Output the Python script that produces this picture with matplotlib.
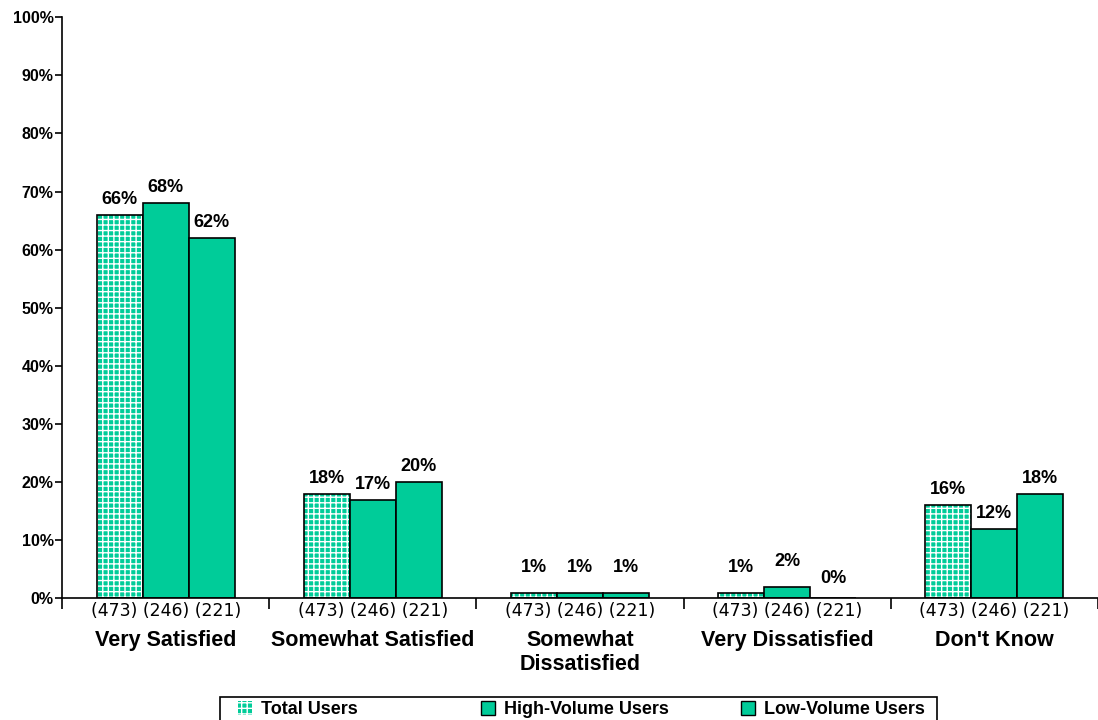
import numpy as np
import matplotlib
matplotlib.use('Agg')
import matplotlib.pyplot as plt
from matplotlib.patches import Patch, Rectangle

plt.rcParams['font.family'] = ['Liberation Sans', 'DejaVu Sans']
plt.rcParams['hatch.linewidth'] = 1.0

categories = ['Very Satisfied', 'Somewhat Satisfied', 'Somewhat\nDissatisfied',
              'Very Dissatisfied', "Don't Know"]
series_names = ['Total Users', 'High-Volume Users', 'Low-Volume Users']
total_users = [66, 18, 1, 1, 16]
high_volume = [68, 17, 1, 2, 12]
low_volume = [62, 20, 1, 0, 18]
base_sizes = ['(473)', '(246)', '(221)']

green = '#00CC99'

fig = plt.figure(figsize=(10.98, 7.2), dpi=100)
ax = fig.add_axes([0.0565, 0.169, 0.9435, 0.807])

x = np.arange(len(categories))
w = 0.222
offsets = [-w, 0, w]

# total users: green with white grid -> dotted look
ax.bar(x + offsets[0], total_users, w, color=green, edgecolor='white',
       hatch='+++', linewidth=0)
ax.bar(x + offsets[0], total_users, w, color='none', edgecolor='black', linewidth=1.2)
ax.bar(x + offsets[1], high_volume, w, color=green, edgecolor='black', linewidth=1.2)
ax.bar(x + offsets[2], low_volume, w, color=green, edgecolor='black', linewidth=1.2)

for vals, off in zip([total_users, high_volume, low_volume], offsets):
    for xi, v in zip(x, vals):
        dy = 5 if v >= 5 else (12 if v > 0 else 8)
        ax.annotate(f'{v}%', (xi + off, v), xytext=(0, dy),
                    textcoords='offset points', ha='center', va='bottom',
                    fontsize=13, fontweight='bold')

ax.set_ylim(0, 100)
ax.set_xlim(-0.5, 4.5)
ax.set_yticks(range(0, 101, 10))
ax.set_yticklabels([f'{v}%' for v in range(0, 101, 10)], fontsize=11.5, fontweight='bold')
ax.tick_params(axis='y', length=5, width=1.2, pad=1)
ax.set_xticks(np.arange(-0.5, 4.6, 1))
ax.set_xticklabels([])
ax.tick_params(axis='x', length=8, width=1.2)
for s in ['top', 'right']:
    ax.spines[s].set_visible(False)
ax.spines['left'].set_linewidth(1.2)
ax.spines['bottom'].set_linewidth(1.2)

for xi, cat in zip(x, categories):
    ax.text(xi, -0.7, ' '.join(base_sizes), ha='center', va='top',
            fontsize=12.4, family='DejaVu Sans')
    ax.text(xi, -5.5, cat, ha='center', va='top', fontsize=15.5, fontweight='bold',
            linespacing=1.2)

# legend: box drawn separately, one entry per column placed on an even grid
box = Rectangle((220 / 1098, -0.01), 717 / 1098, 0.042,
                transform=fig.transFigure, facecolor='white',
                edgecolor='black', linewidth=1.2, zorder=0)
fig.patches.append(box)
handles = [Patch(facecolor=green, edgecolor='white', hatch='+++', linewidth=0),
           Patch(facecolor=green, edgecolor='black'),
           Patch(facecolor=green, edgecolor='black')]
for h, name, lx in zip(handles, series_names, [236, 479, 739]):
    leg = fig.legend([h], [name], loc='upper left', bbox_to_anchor=(lx / 1098, 0.029),
                     frameon=False, prop={'weight': 'bold', 'size': 13},
                     handlelength=0.8, handleheight=0.8, borderpad=0.1,
                     handletextpad=0.5, borderaxespad=0)
    leg.set_zorder(5)

fig.savefig('out.png', dpi=100)
